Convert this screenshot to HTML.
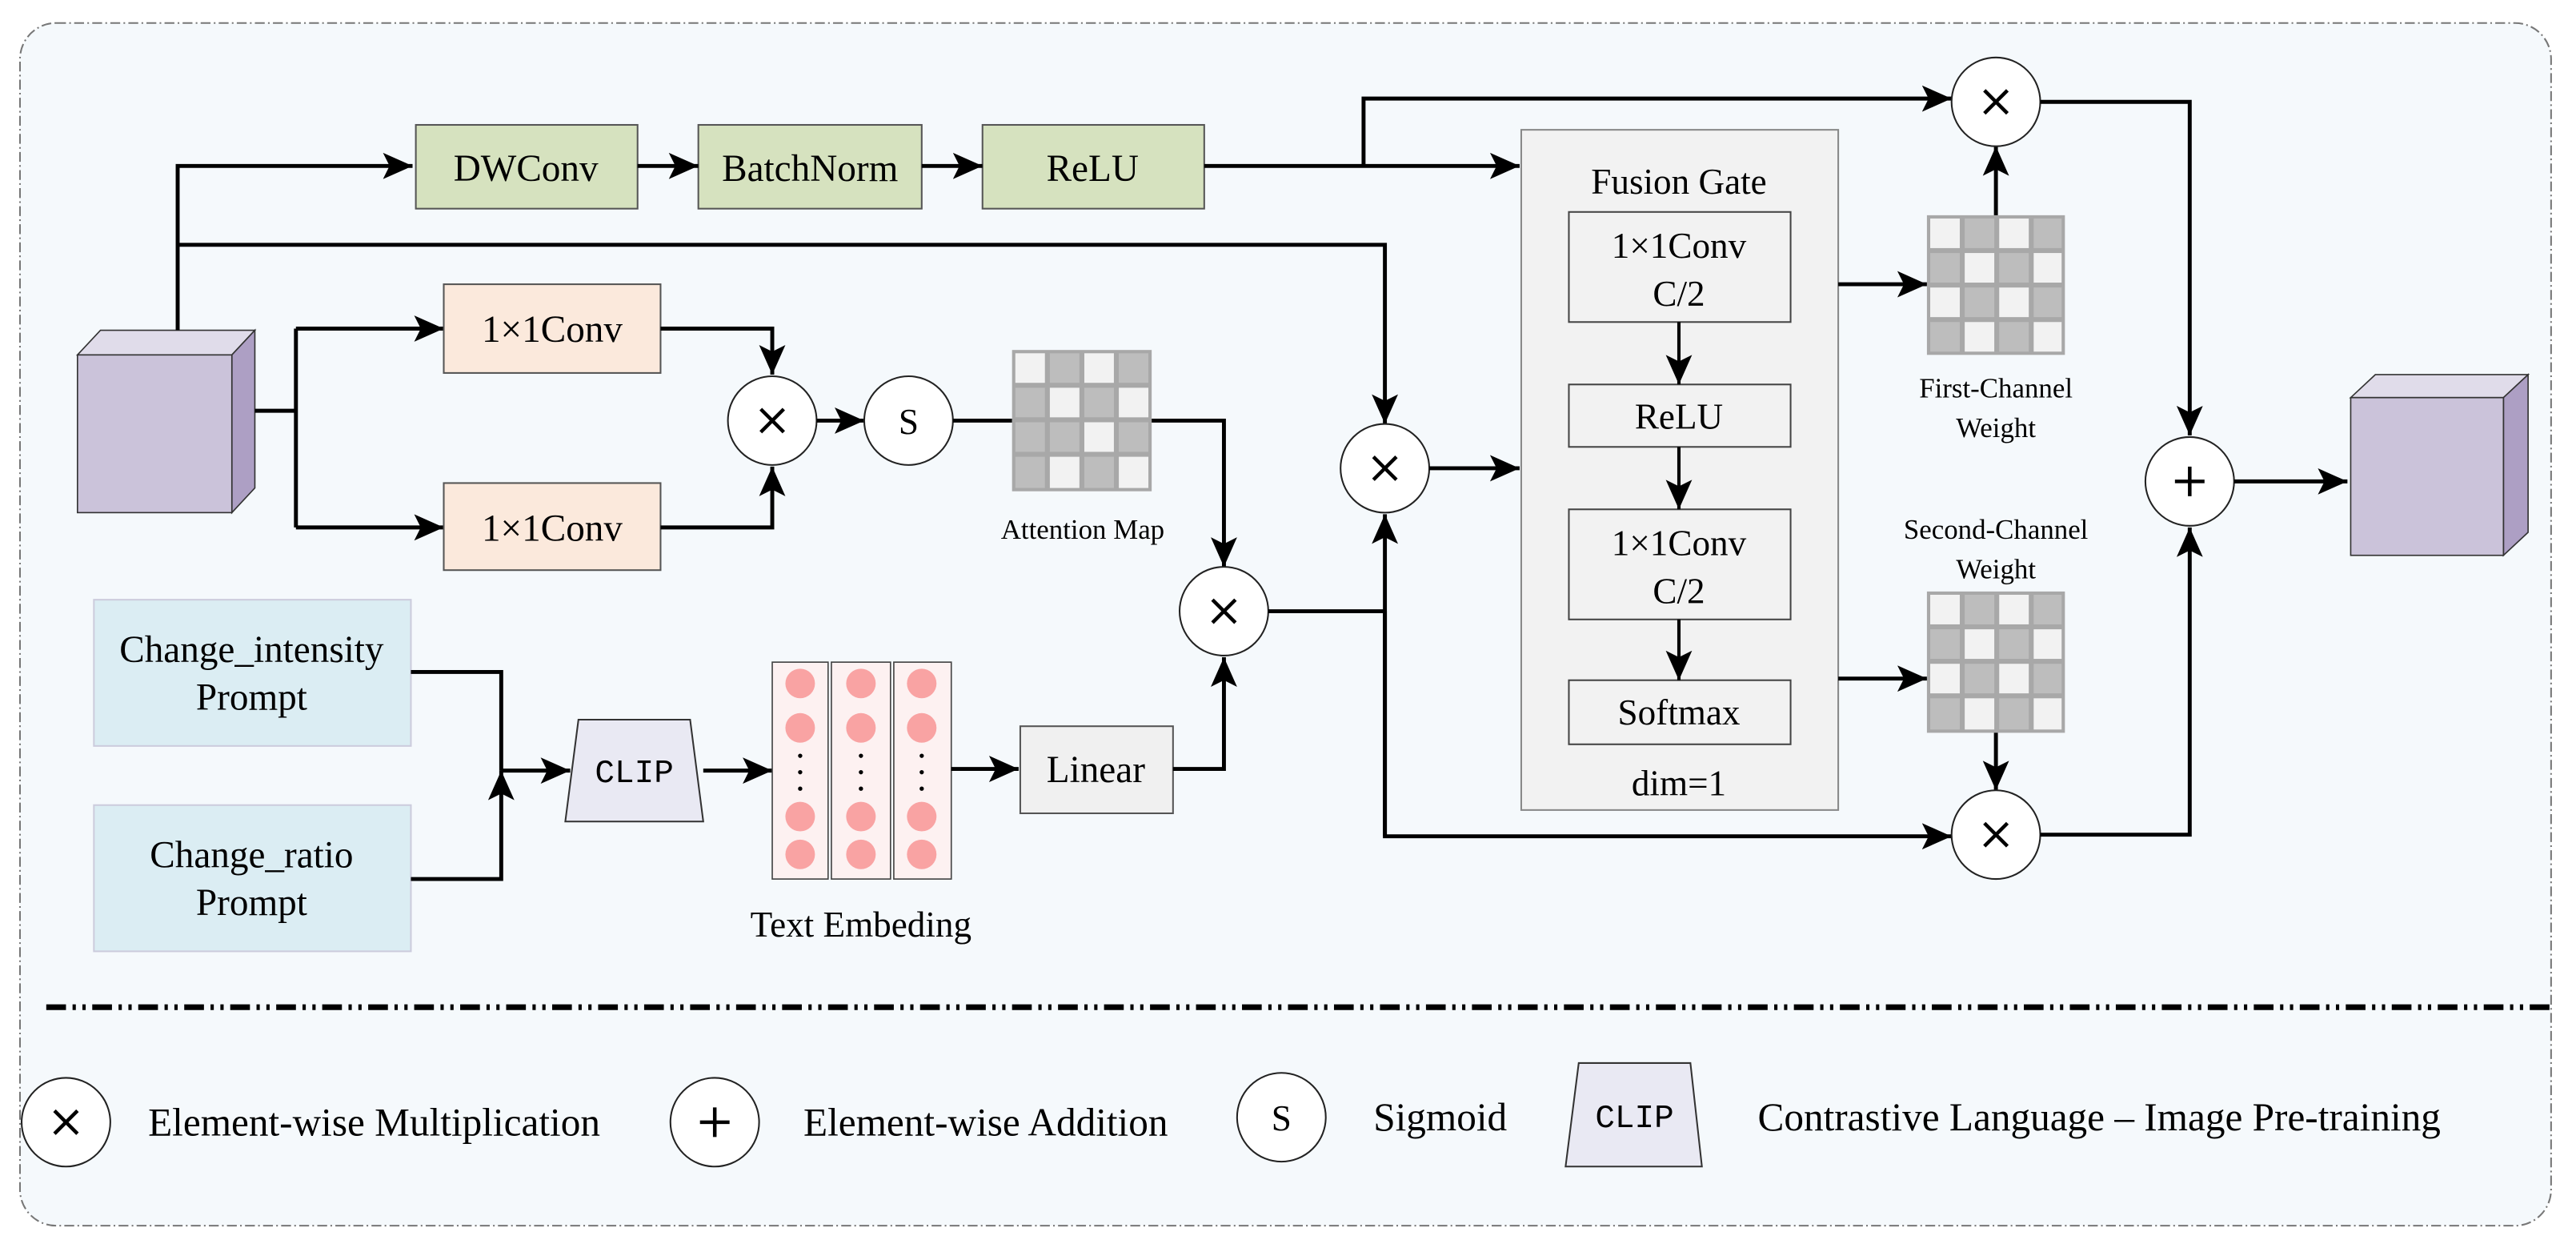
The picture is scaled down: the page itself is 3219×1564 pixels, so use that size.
<!DOCTYPE html>
<html><head><meta charset="utf-8"><style>
html,body{margin:0;padding:0;background:#fff;}
svg{display:block;}
text{font-family:"Liberation Serif",serif;fill:#000;}
.b{stroke:#000;stroke-width:2.4;fill:none;}
.c{fill:#fff;stroke:#222;stroke-width:1;}
.x{stroke:#000;stroke-width:2.2;}
</style></head><body>
<svg width="3219" height="1564" viewBox="0 0 1568 762" xmlns="http://www.w3.org/2000/svg">
<defs>
<marker id="a" markerUnits="userSpaceOnUse" markerWidth="20" markerHeight="16" refX="18" refY="8" orient="auto">
<path d="M0,0 L18,8 L0,16 L4,8 Z" fill="#000"/></marker>
<g id="mul"><circle r="27" class="c"/><line x1="-7" y1="-7" x2="7" y2="7" class="x"/><line x1="7" y1="-7" x2="-7" y2="7" class="x"/></g>
</defs>
<rect x="12" y="14" width="1541" height="732" rx="22" fill="#f5f9fc" stroke="#777" stroke-width="1" stroke-dasharray="6,2,1,2"/>
<line x1="28" y1="613" x2="1553" y2="613" stroke="#000" stroke-width="3.5" stroke-dasharray="12,4,2,4,2,4"/>

<!-- input cube -->
<polygon points="47,216 61,201 155,201 141,216" fill="#e0dcea" stroke="#333" stroke-width="0.8"/>
<polygon points="141,216 155,201 155,297 141,312" fill="#ad9fc4" stroke="#333" stroke-width="0.8"/>
<rect x="47" y="216" width="94" height="96" fill="#cbc3da" stroke="#333" stroke-width="0.8"/>

<!-- top row -->
<path class="b" d="M108,201 V101 H251" marker-end="url(#a)"/>
<path class="b" d="M108,149 H843 V258" marker-end="url(#a)"/>
<rect x="253" y="76" width="135" height="51" fill="#d6e2bf" stroke="#555" stroke-width="1"/>
<rect x="425" y="76" width="136" height="51" fill="#d6e2bf" stroke="#555" stroke-width="1"/>
<rect x="598" y="76" width="135" height="51" fill="#d6e2bf" stroke="#555" stroke-width="1"/>
<text x="320" y="110" font-size="23" text-anchor="middle">DWConv</text>
<text x="493" y="110" font-size="23" text-anchor="middle">BatchNorm</text>
<text x="665" y="110" font-size="23" text-anchor="middle">ReLU</text>
<path class="b" d="M388,101 H425" marker-end="url(#a)"/>
<path class="b" d="M561,101 H598" marker-end="url(#a)"/>
<path class="b" d="M733,101 H925" marker-end="url(#a)"/>
<path class="b" d="M830,101 V60 H1188" marker-end="url(#a)"/>

<!-- conv branches -->
<path class="b" d="M155,250 H180"/>
<path class="b" d="M180,200 V321"/>
<path class="b" d="M180,200 H270" marker-end="url(#a)"/>
<path class="b" d="M180,321 H270" marker-end="url(#a)"/>
<rect x="270" y="173" width="132" height="54" fill="#fbe9dc" stroke="#555" stroke-width="1"/>
<rect x="270" y="294" width="132" height="53" fill="#fbe9dc" stroke="#555" stroke-width="1"/>
<text x="336" y="208" font-size="23" text-anchor="middle">1×1Conv</text>
<text x="336" y="329" font-size="23" text-anchor="middle">1×1Conv</text>
<path class="b" d="M402,200 H470 V228" marker-end="url(#a)"/>
<path class="b" d="M402,321 H470 V284" marker-end="url(#a)"/>
<use href="#mul" x="470" y="256"/>
<path class="b" d="M497,256 H526" marker-end="url(#a)"/>
<circle cx="553" cy="256" r="27" class="c"/>
<text x="553" y="264" font-size="22" text-anchor="middle">S</text>
<path class="b" d="M580,256 H616"/>
<!-- attention grid -->
<g transform="translate(616,213)">
<rect x="0" y="0" width="85" height="86" fill="#a8a8a8"/>
<g fill="#f2f2f2"><rect x="2" y="2" width="18" height="18"/><rect x="44" y="2" width="18" height="18"/><rect x="23" y="23" width="18" height="18"/><rect x="65" y="23" width="18" height="18"/><rect x="44" y="44" width="18" height="18"/><rect x="23" y="65" width="18" height="19"/><rect x="65" y="65" width="18" height="19"/></g>
<g fill="#bdbdbd"><rect x="23" y="2" width="18" height="18"/><rect x="65" y="2" width="18" height="18"/><rect x="2" y="23" width="18" height="18"/><rect x="44" y="23" width="18" height="18"/><rect x="2" y="44" width="18" height="18"/><rect x="23" y="44" width="18" height="18"/><rect x="65" y="44" width="18" height="18"/><rect x="2" y="65" width="18" height="19"/><rect x="44" y="65" width="18" height="19"/></g>
</g>
<text x="659" y="328" font-size="17" text-anchor="middle">Attention Map</text>
<path class="b" d="M701,256 H745 V345" marker-end="url(#a)"/>
<use href="#mul" x="745" y="372"/>

<!-- prompts -->
<rect x="57" y="365" width="193" height="89" fill="#dbedf3" stroke="#ccd" stroke-width="1"/>
<rect x="57" y="490" width="193" height="89" fill="#dbedf3" stroke="#ccd" stroke-width="1"/>
<text x="153" y="403" font-size="23" text-anchor="middle">Change_intensity</text>
<text x="153" y="432" font-size="23" text-anchor="middle">Prompt</text>
<text x="153" y="528" font-size="23" text-anchor="middle">Change_ratio</text>
<text x="153" y="557" font-size="23" text-anchor="middle">Prompt</text>
<path class="b" d="M250,409 H305 V469"/>
<path class="b" d="M250,535 H305 V469" marker-end="url(#a)"/>
<path class="b" d="M305,469 H347" marker-end="url(#a)"/>
<polygon points="352,438 420,438 428,500 344,500" fill="#e9e9f3" stroke="#333" stroke-width="1"/>
<text x="386" y="476" font-size="20" text-anchor="middle" style="font-family:'Liberation Mono',monospace">CLIP</text>
<path class="b" d="M428,469 H470" marker-end="url(#a)"/>
<!-- embedding -->
<g stroke="#444" stroke-width="0.8" fill="#fdf1f1">
<rect x="470" y="403" width="34" height="132"/><rect x="506" y="403" width="36" height="132"/><rect x="544" y="403" width="35" height="132"/></g>
<g fill="#f9a3a3">
<ellipse cx="487" cy="416" rx="9" ry="9"/><ellipse cx="487" cy="443" rx="9" ry="9"/><ellipse cx="487" cy="497" rx="9" ry="9"/><ellipse cx="487" cy="520" rx="9" ry="9"/>
<ellipse cx="524" cy="416" rx="9" ry="9"/><ellipse cx="524" cy="443" rx="9" ry="9"/><ellipse cx="524" cy="497" rx="9" ry="9"/><ellipse cx="524" cy="520" rx="9" ry="9"/>
<ellipse cx="561" cy="416" rx="9" ry="9"/><ellipse cx="561" cy="443" rx="9" ry="9"/><ellipse cx="561" cy="497" rx="9" ry="9"/><ellipse cx="561" cy="520" rx="9" ry="9"/></g>
<g fill="#000"><circle cx="487" cy="460" r="1.3"/><circle cx="487" cy="470" r="1.3"/><circle cx="487" cy="480" r="1.3"/>
<circle cx="524" cy="460" r="1.3"/><circle cx="524" cy="470" r="1.3"/><circle cx="524" cy="480" r="1.3"/>
<circle cx="561" cy="460" r="1.3"/><circle cx="561" cy="470" r="1.3"/><circle cx="561" cy="480" r="1.3"/></g>
<text x="524" y="570" font-size="22" text-anchor="middle">Text Embeding</text>
<path class="b" d="M579,468 H620" marker-end="url(#a)"/>
<rect x="621" y="442" width="93" height="53" fill="#f0f0f0" stroke="#555" stroke-width="1"/>
<text x="667" y="476" font-size="23" text-anchor="middle">Linear</text>
<path class="b" d="M714,468 H745 V400" marker-end="url(#a)"/>

<!-- middle mul -->
<path class="b" d="M772,372 H843"/>
<path class="b" d="M843,509 V313" marker-end="url(#a)"/>
<path class="b" d="M843,372 V509 H1188" marker-end="url(#a)"/>
<use href="#mul" x="843" y="285"/>
<path class="b" d="M870,285 H925" marker-end="url(#a)"/>

<!-- fusion gate -->
<rect x="926" y="79" width="193" height="414" fill="#f2f2f2" stroke="#888" stroke-width="1"/>
<text x="1022" y="118" font-size="22" text-anchor="middle">Fusion Gate</text>
<g fill="#f2f2f2" stroke="#444" stroke-width="1">
<rect x="955" y="129" width="135" height="67"/><rect x="955" y="234" width="135" height="38"/><rect x="955" y="310" width="135" height="67"/><rect x="955" y="414" width="135" height="39"/></g>
<text x="1022" y="157" font-size="22" text-anchor="middle">1×1Conv</text>
<text x="1022" y="186" font-size="22" text-anchor="middle">C/2</text>
<text x="1022" y="261" font-size="22" text-anchor="middle">ReLU</text>
<text x="1022" y="338" font-size="22" text-anchor="middle">1×1Conv</text>
<text x="1022" y="367" font-size="22" text-anchor="middle">C/2</text>
<text x="1022" y="441" font-size="22" text-anchor="middle">Softmax</text>
<text x="1022" y="484" font-size="22" text-anchor="middle">dim=1</text>
<g stroke="#000" stroke-width="2" fill="none">
<path d="M1022,196 V234" marker-end="url(#a)"/><path d="M1022,272 V310" marker-end="url(#a)"/><path d="M1022,377 V414" marker-end="url(#a)"/></g>

<!-- weights -->
<path class="b" d="M1119,173 H1173" marker-end="url(#a)"/>
<path class="b" d="M1119,413 H1173" marker-end="url(#a)"/>
<g transform="translate(1173,131)">
<rect x="0" y="0" width="84" height="85" fill="#a8a8a8"/>
<g fill="#f2f2f2"><rect x="2" y="2" width="18" height="18"/><rect x="44" y="2" width="18" height="18"/><rect x="23" y="23" width="18" height="18"/><rect x="65" y="23" width="17" height="18"/><rect x="2" y="44" width="18" height="18"/><rect x="44" y="44" width="18" height="18"/><rect x="23" y="65" width="18" height="18"/><rect x="65" y="65" width="17" height="18"/></g>
<g fill="#bdbdbd"><rect x="23" y="2" width="18" height="18"/><rect x="65" y="2" width="17" height="18"/><rect x="2" y="23" width="18" height="18"/><rect x="44" y="23" width="18" height="18"/><rect x="23" y="44" width="18" height="18"/><rect x="65" y="44" width="17" height="18"/><rect x="2" y="65" width="18" height="18"/><rect x="44" y="65" width="18" height="18"/></g>
</g>
<g transform="translate(1173,360)">
<rect x="0" y="0" width="84" height="86" fill="#a8a8a8"/>
<g fill="#f2f2f2"><rect x="2" y="2" width="18" height="18"/><rect x="44" y="2" width="18" height="18"/><rect x="23" y="23" width="18" height="18"/><rect x="65" y="23" width="17" height="18"/><rect x="2" y="44" width="18" height="18"/><rect x="44" y="44" width="18" height="18"/><rect x="23" y="65" width="18" height="19"/><rect x="65" y="65" width="17" height="19"/></g>
<g fill="#bdbdbd"><rect x="23" y="2" width="18" height="18"/><rect x="65" y="2" width="17" height="18"/><rect x="2" y="23" width="18" height="18"/><rect x="44" y="23" width="18" height="18"/><rect x="23" y="44" width="18" height="18"/><rect x="65" y="44" width="17" height="18"/><rect x="2" y="65" width="18" height="19"/><rect x="44" y="65" width="18" height="19"/></g>
</g>
<text x="1215" y="242" font-size="17" text-anchor="middle">First-Channel</text>
<text x="1215" y="266" font-size="17" text-anchor="middle">Weight</text>
<text x="1215" y="328" font-size="17" text-anchor="middle">Second-Channel</text>
<text x="1215" y="352" font-size="17" text-anchor="middle">Weight</text>
<path class="b" d="M1215,131 V89" marker-end="url(#a)"/>
<path class="b" d="M1215,446 V481" marker-end="url(#a)"/>
<use href="#mul" x="1215" y="62"/>
<use href="#mul" x="1215" y="508"/>

<!-- add -->
<path class="b" d="M1242,62 H1333 V265" marker-end="url(#a)"/>
<path class="b" d="M1242,508 H1333 V321" marker-end="url(#a)"/>
<circle cx="1333" cy="293" r="27" class="c"/>
<line x1="1333" y1="284" x2="1333" y2="302" class="x"/><line x1="1324" y1="293" x2="1342" y2="293" class="x"/>
<path class="b" d="M1360,293 H1429" marker-end="url(#a)"/>
<polygon points="1431,242 1446,228 1539,228 1524,242" fill="#e0dcea" stroke="#333" stroke-width="0.8"/>
<polygon points="1524,242 1539,228 1539,324 1524,338" fill="#ad9fc4" stroke="#333" stroke-width="0.8"/>
<rect x="1431" y="242" width="93" height="96" fill="#cbc3da" stroke="#333" stroke-width="0.8"/>

<!-- legend -->
<use href="#mul" x="40" y="683"/>
<text x="90" y="691" font-size="24">Element-wise Multiplication</text>
<circle cx="435" cy="683" r="27" class="c"/>
<line x1="435" y1="674" x2="435" y2="692" class="x"/><line x1="426" y1="683" x2="444" y2="683" class="x"/>
<text x="489" y="691" font-size="24">Element-wise Addition</text>
<circle cx="780" cy="680" r="27" class="c"/>
<text x="780" y="688" font-size="22" text-anchor="middle">S</text>
<text x="836" y="688" font-size="24">Sigmoid</text>
<polygon points="961,647 1029,647 1036,710 953,710" fill="#e9e9f3" stroke="#333" stroke-width="1"/>
<text x="995" y="686" font-size="20" text-anchor="middle" style="font-family:'Liberation Mono',monospace">CLIP</text>
<text x="1070" y="688" font-size="24">Contrastive Language – Image Pre-training</text>
</svg>
</body></html>
